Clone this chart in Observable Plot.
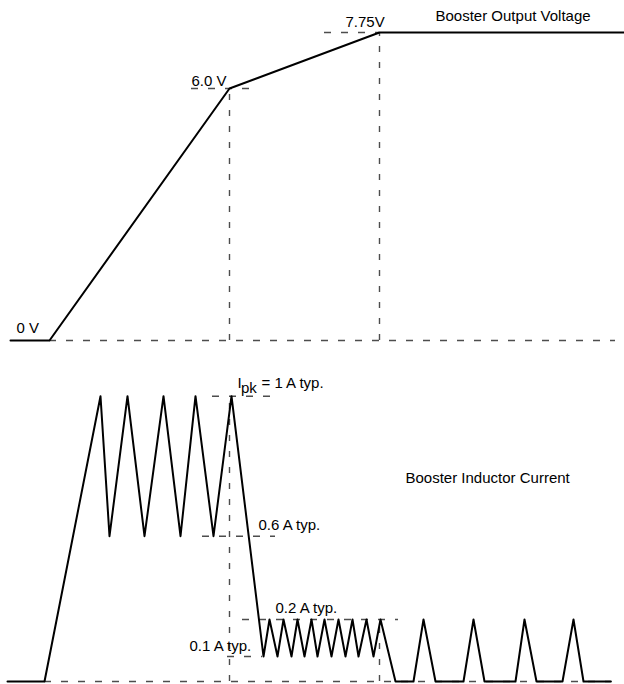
<!DOCTYPE html>
<html>
<head>
<meta charset="utf-8">
<script src="https://cdn.jsdelivr.net/npm/d3@7"></script>
<script src="https://cdn.jsdelivr.net/npm/@observablehq/plot@0.6"></script>
<style>
html, body { margin: 0; padding: 0; background: #fff; }
#chart svg { display: block; }
</style>
</head>
<body>
<div id="chart"></div>
<script>
// ---------- Data (time in arbitrary units, 0..156) ----------
// Booster output voltage waveform
const vTime  = [2.5, 12.25, 57.25, 94.75, 156];
const vVolts = [0, 0, 6, 7.75, 7.75];

// Booster inductor current waveform
const iTime = [1.75, 11, 25, 27.25, 31.75, 36, 40.75, 45, 48.75, 53.25, 57.75,
  65.75, 67.25, 69.25, 70.75, 72.75, 74.25, 76, 77.75, 79.25, 81, 82.75, 84.5,
  86.25, 88, 89.5, 91.5, 93.25, 95,
  98.75, 103.25, 105.75, 108.75, 115.75, 118.25, 121, 128.75, 131, 134,
  140.5, 143.25, 145.75, 152.5];
const iAmps = [0, 0, 1, 0.6, 1, 0.6, 1, 0.6, 1, 0.6, 1,
  0.1, 0.2, 0.1, 0.2, 0.1, 0.2, 0.1, 0.2, 0.1, 0.2, 0.1, 0.2,
  0.1, 0.2, 0.1, 0.2, 0.1, 0.2,
  0, 0, 0.2, 0, 0, 0.2, 0, 0, 0.2, 0,
  0, 0.2, 0, 0];

// Dashed reference levels
const vRefLevel = [0, 6, 7.75];
const vRefFrom  = [12.25, 47.75, 81];
const vRefTo    = [153.75, 63.25, 94.75];

const iRefLevel = [0, 0.1, 0.2, 0.6, 1];
const iRefFrom  = [11, 56.75, 60.5, 50.5, 53];
const iRefTo    = [155, 65.5, 99.5, 68.75, 68];

// Vertical marker lines (voltage knee -> current level)
const markTime = [57.25, 94.75];
const markVolt = [6, 7.75];
const markAmp  = [1, 0.2];

// Labels
const vLabels = ["Booster Output Voltage", "7.75V", "6.0 V", "0 V"];
const iLabels = ["I", "pk", "= 1 A typ.", "0.6 A typ.", "0.2 A typ.", "0.1 A typ.", "Booster Inductor Current"];

// ---------- Build tables ----------
const vData = vTime.map((t, k) => ({t, v: vVolts[k]}));
const iData = iTime.map((t, k) => ({t, a: iAmps[k]}));
const vRef = vRefLevel.map((lv, k) => ({lv, from: vRefFrom[k], to: vRefTo[k]}));
const iRef = iRefLevel.map((lv, k) => ({lv, from: iRefFrom[k], to: iRefTo[k]}));
const marks = markTime.map((t, k) => ({t, v: markVolt[k], a: markAmp[k]}));

// The diagram is schematic (not to scale): piecewise mapping of values to drawing levels
const voltLevel = d3.scaleLinear().domain([0, 6, 7.75]).range([0, 252, 308]);
const ampLevel  = d3.scaleLinear().domain([0, 0.1, 0.2, 0.6, 1]).range([0, 25, 62, 145.3, 285.3]);

const FONT = "'Liberation Sans', Arial, Helvetica, sans-serif";
const DASH = "#4d4d4d";
const txt = {fill: "black", fontSize: 15, fontFamily: FONT, textAnchor: "start", lineAnchor: "bottom"};

function label(text, t, y, dy) {
  return Plot.text([{text, t, y}], {x: "t", y: "y", text: "text", dy, ...txt});
}

const voltPlot = Plot.plot({
  width: 624, height: 360, margin: 0,
  x: {domain: [0, 156], axis: null},
  y: {transform: voltLevel, domain: [-20, 340], axis: null},
  style: {background: "white", fontFamily: FONT},
  marks: [
    Plot.ruleY(vRef, {y: "lv", x1: "from", x2: "to", stroke: DASH, strokeWidth: 1.4, strokeDasharray: "7,10"}),
    Plot.ruleX(marks, {x: "t", y1: "v", stroke: DASH, strokeWidth: 1.4, strokeDasharray: "6,10"}),
    Plot.line(vData, {x: "t", y: "v", stroke: "black", strokeWidth: 2}),
    label(vLabels[0], 108.75, 7.75, -12),
    label(vLabels[1], 86.25, 7.75, -6),
    label(vLabels[2], 47.75, 6, -3),
    label(vLabels[3], 4, 0, -8)
  ]
});

const currPlot = Plot.plot({
  width: 624, height: 324, margin: 0,
  x: {domain: [0, 156], axis: null},
  y: {transform: ampLevel, domain: [-3, 321], axis: null},
  style: {background: "white", fontFamily: FONT},
  marks: [
    Plot.ruleY(iRef, {y: "lv", x1: "from", x2: "to", stroke: DASH, strokeWidth: 1.4, strokeDasharray: "7,10"}),
    Plot.ruleX(marks, {x: "t", y2: "a", stroke: DASH, strokeWidth: 1.4, strokeDasharray: "6,10"}),
    Plot.line(iData, {x: "t", y: "a", stroke: "black", strokeWidth: 2}),
    label(iLabels[0], 59.25, 1, -8),
    label(iLabels[1], 60.125, 1, -3),
    label(iLabels[2], 65.25, 1, -8),
    label(iLabels[3], 64.5, 0.6, -6),
    label(iLabels[4], 68.75, 0.2, -7),
    label(iLabels[5], 47.25, 0.1, -6),
    label(iLabels[6], 101.25, 0.6, -53)
  ]
});

const chart = document.getElementById("chart");
chart.appendChild(voltPlot);
chart.appendChild(currPlot);
</script>
</body>
</html>
